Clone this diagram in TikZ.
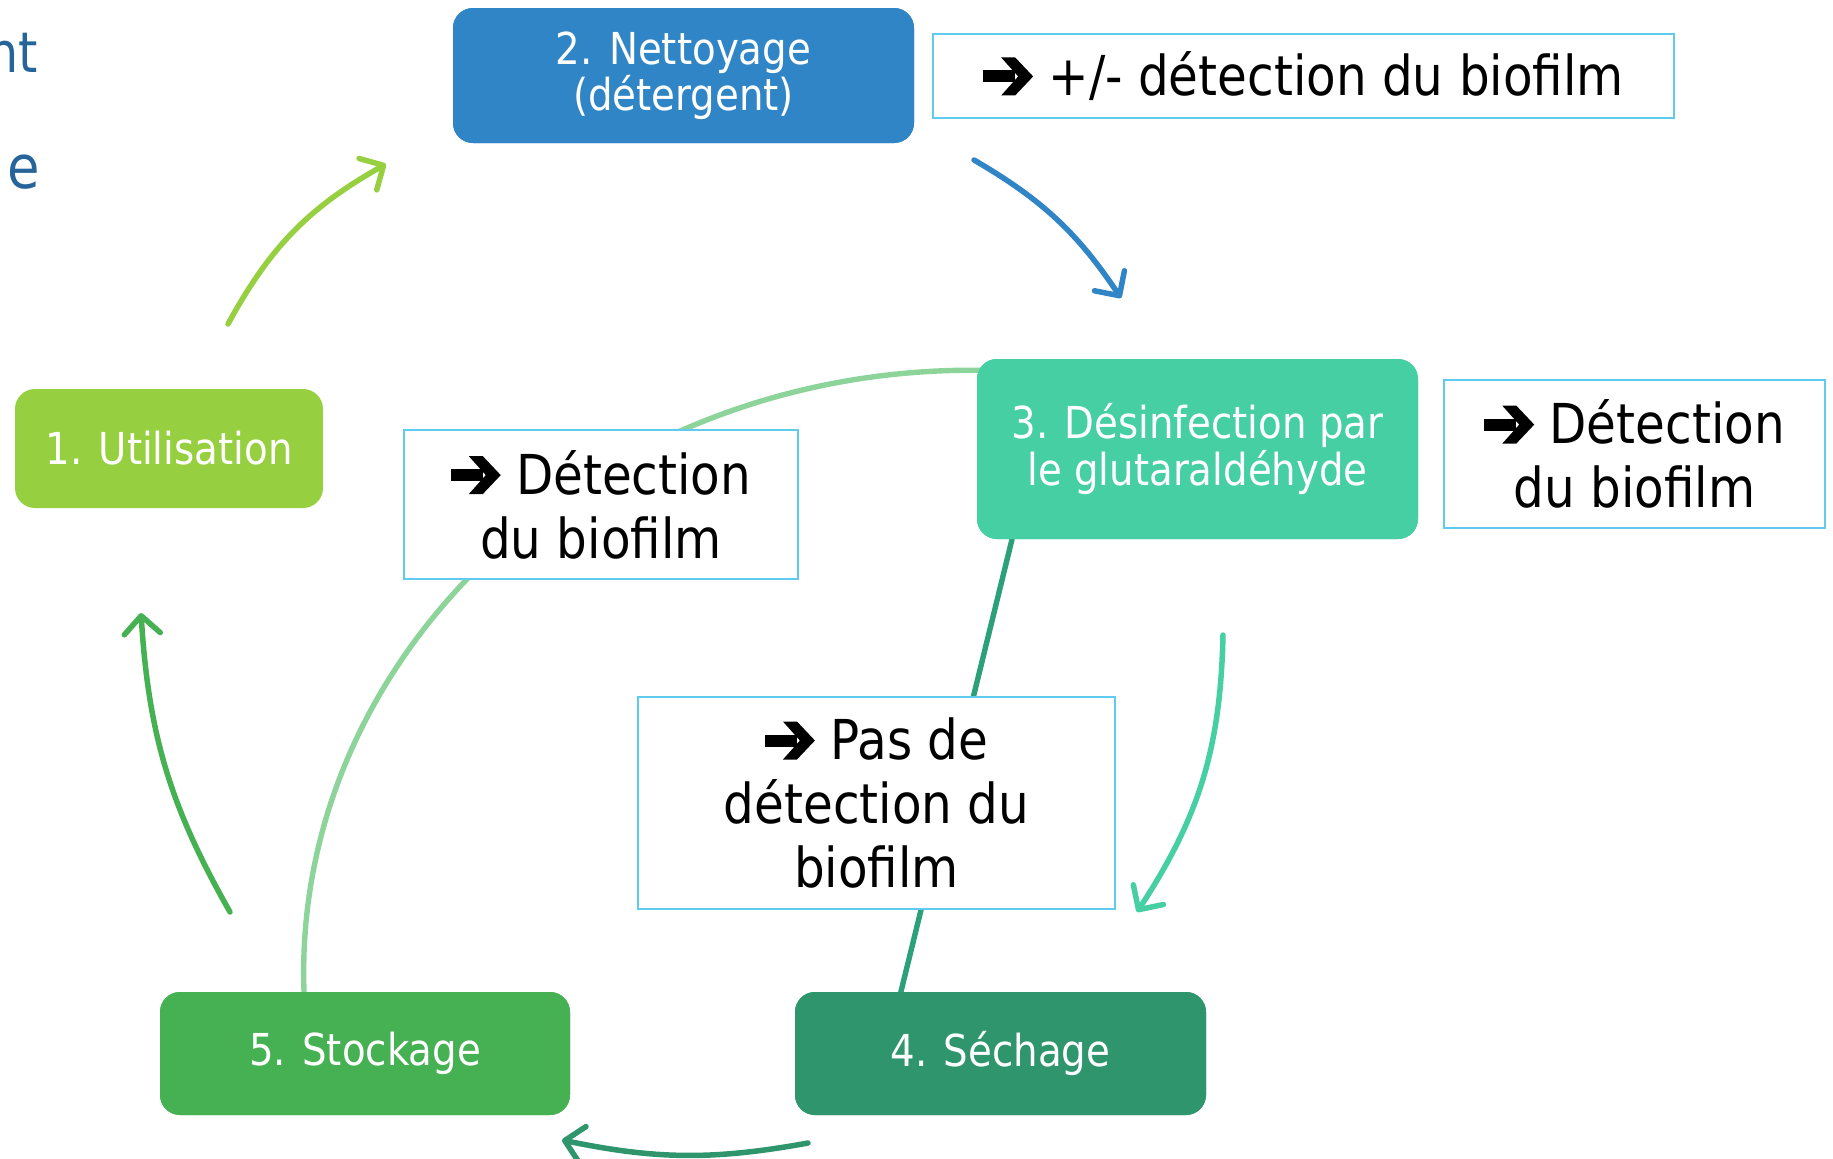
\documentclass[tikz,border=0pt]{standalone}
\usepackage{fontspec}
\setmainfont[FakeStretch=0.88]{DejaVu Sans}
\usetikzlibrary{arrows.meta,calc}
\definecolor{cA}{HTML}{96D040}
\definecolor{cB}{HTML}{2F85C5}
\definecolor{cC}{HTML}{45CFA2}
\definecolor{cD}{HTML}{2E956D}
\definecolor{cE}{HTML}{45B153}
\definecolor{cF}{HTML}{8DD49A}
\definecolor{cG}{HTML}{2BA07A}
\definecolor{frame}{HTML}{5FCBEF}
\definecolor{ttl}{HTML}{27649A}
\newcommand\bxfont{\fontsize{22pt}{21.5pt}\selectfont}
\newcommand\tbfont{\fontsize{27.5pt}{32pt}\selectfont}
\newcommand\harrow{\tikz[x=1pt,y=1pt,baseline=0pt]{\fill (0,6.5) rectangle (16,12.5); \fill (9,19) -- (16,19) -- (25,9.5) -- (16,0) -- (9,0) -- (17.5,9.5) -- cycle;}}
\tikzset{
  stage/.style={rounded corners=10pt, text=white, align=center, font=\bxfont, inner sep=0pt},
  note/.style={draw=frame, line width=1pt, fill=white, align=center, font=\tbfont, inner sep=0pt},
  arr/.style={line width=2.75pt, line cap=round, -{Straight Barb[round,length=9pt,width=18pt]}},
  link/.style={line width=2.7pt, line cap=round}
}
\begin{document}
\begin{tikzpicture}[x=0.5pt,y=-0.5pt]
\useasboundingbox (0,0) rectangle (1833,1158);
\clip (0,0) rectangle (1833,1158);
% partial title text at left edge
\node[anchor=base east, text=ttl, font=\fontsize{28pt}{30pt}\selectfont, inner sep=0pt] (tt1) at (38,72) {nt};
\node[anchor=base east, text=ttl, font=\fontsize{30pt}{30pt}\selectfont, inner sep=0pt] (tt2) at (40,188) {t\kern3pt e};
% coordinates for free arrows
\coordinate (a1s) at (228,324); \coordinate (a1e) at (386,164);
\coordinate (a2s) at (974,160); \coordinate (a2e) at (1121,298);
\coordinate (a3s) at (1223,635); \coordinate (a3e) at (1137,912);
\coordinate (a4s) at (808,1143); \coordinate (a4e) at (562,1140);
\coordinate (a5s) at (230,912); \coordinate (a5e) at (141,613);
% stage nodes (positions), drawn again on top of the links
\path
  node[stage, fill=cA, minimum width=154pt, minimum height=59.5pt] (b1) at (169,448.5) {1. Utilisation}
  node[stage, fill=cB, minimum width=230.5pt, minimum height=67.5pt] (b2) at (683.5,75.5) {2. Nettoyage\\(détergent)}
  node[stage, fill=cC, minimum width=220.5pt, minimum height=90pt] (b3) at (1197.5,449) {3. Désinfection par\\le glutaraldéhyde}
  node[stage, fill=cD, minimum width=205.5pt, minimum height=61.5pt] (b4) at (1000.5,1053.5) {4. Séchage}
  node[stage, fill=cE, minimum width=205pt, minimum height=61.5pt] (b5) at (365,1053.5) {5. Stockage};
% background links
\draw[link, cF] ([xshift=-30.5pt]b5.north) .. controls (292,645) and (610,358) .. ([xshift=10pt,yshift=-6pt]b3.north west);
\draw[link, cG] ([xshift=-92.75pt]b3.south) -- ([xshift=-50.75pt,yshift=-4pt]b4.north);
% stage boxes on top
\node[stage, fill=cB, minimum width=230.5pt, minimum height=67.5pt] at (b2) {2. Nettoyage\\(détergent)};
\node[stage, fill=cC, minimum width=220.5pt, minimum height=90pt] at (b3) {3. Désinfection par\\le glutaraldéhyde};
\node[stage, fill=cD, minimum width=205.5pt, minimum height=61.5pt] at (b4) {4. Séchage};
\node[stage, fill=cE, minimum width=205pt, minimum height=61.5pt] at (b5) {5. Stockage};
% notes
\node[note, minimum width=370.5pt, minimum height=42pt] (nA) at (1303.5,76) {\harrow\ +/- détection du biofilm};
\node[note, minimum width=190.5pt, minimum height=74pt] (nB) at (1634.5,454) {\harrow\ Détection\\du biofilm};
\node[note, minimum width=197pt, minimum height=74.5pt] (nC) at (601,504.5) {\harrow\ Détection\\du biofilm};
\node[note, minimum width=238.5pt, minimum height=106pt] (nD) at (876.5,803) {\harrow\ Pas de\\détection du\\biofilm};
% cycle arrows
\draw[arr, cA] (a1s) to[bend left=16] (a1e);
\draw[arr, cB] (a2s) to[bend left=13] (a2e);
\draw[arr, cC] (a3s) to[bend left=16] (a3e);
\draw[arr, cD] (a4s) to[bend left=11] (a4e);
\draw[arr, cE] (a5s) to[bend left=13] (a5e);
\end{tikzpicture}
\end{document}
